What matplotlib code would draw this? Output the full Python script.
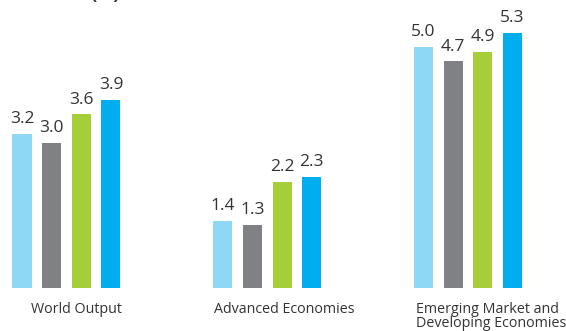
import numpy as np
import matplotlib.pyplot as plt

plt.rcParams['font.family'] = ['Open Sans', 'DejaVu Sans']

categories = ['World Output', 'Advanced Economies', 'Emerging Market and\nDeveloping Economies']
series_a = [3.2, 1.4, 5.0]
series_b = [3.0, 1.3, 4.7]
series_c = [3.6, 2.2, 4.9]
series_d = [3.9, 2.3, 5.3]
all_series = [series_a, series_b, series_c, series_d]
colors = ['#8fd8f5', '#808184', '#a6ce39', '#00aeef']

fig = plt.figure(figsize=(5.66, 3.31), dpi=100)
ax = fig.add_axes([0, 0, 1, 1])

x = np.arange(len(categories))
width = 0.095
step = 0.1475
for i, (vals, c) in enumerate(zip(all_series, colors)):
    pos = x + (i - 1.5) * step
    bars = ax.bar(pos, vals, width=width, color=c)
    for b, v in zip(bars, vals):
        ax.annotate(f'{v:.1f}', (b.get_x() + b.get_width() / 2, v),
                    xytext=(0, 5), textcoords='offset points',
                    ha='center', va='bottom', fontsize=12.5, color='#333333')

# category labels below each group
label_dx = [0.05, -0.265, -0.26]
for xi, lab, dx in zip(x, categories, label_dx):
    ha = 'center' if dx > 0 else 'left'
    ax.text(xi + dx, -0.3, lab, ha=ha, va='top', fontsize=10.3,
            color='#333333', linespacing=0.9)

ax.set_xlim(-0.331, 2.488)
ax.set_ylim(-0.892, 5.975)
ax.axis('off')

fig.text(120 / 566, 1 + 1 / 331, 'Growth (%)', ha='right', va='baseline',
         fontsize=13, fontweight='bold', color='#333333')

fig.savefig('out.png', dpi=100)
